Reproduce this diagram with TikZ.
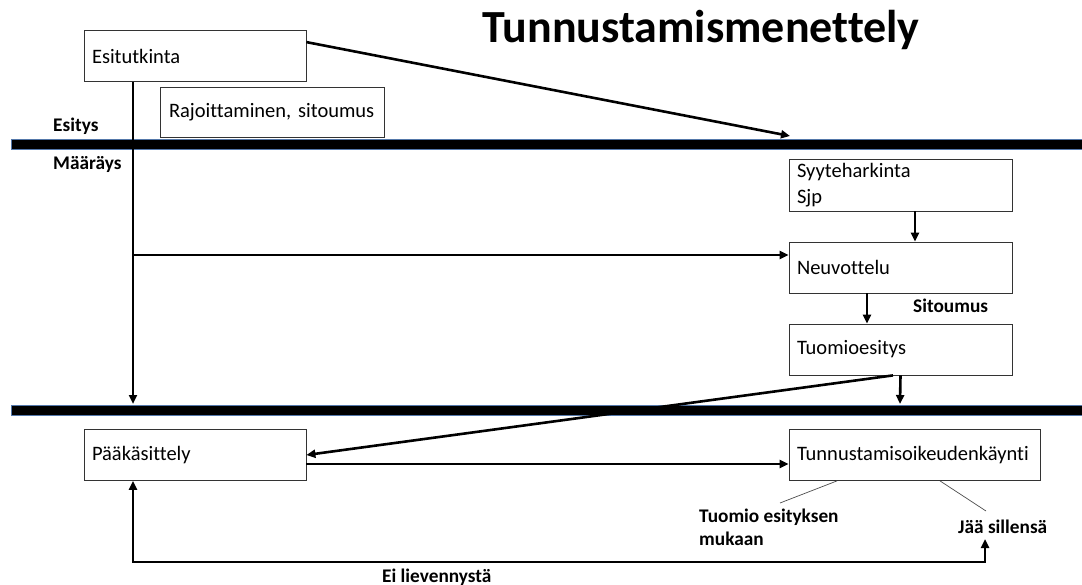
\documentclass[tikz,border=0pt]{standalone}
\usepackage{fontspec}
\setmainfont{Carlito}[Ligatures={NoCommon}]
\usetikzlibrary{arrows.meta}
\definecolor{barblue}{RGB}{84,120,170}
\begin{document}
\begin{tikzpicture}[x=1pt,y=-1pt,
  box/.style={draw=black!80, line width=0.8pt, fill=white, minimum height=51pt,
    text width=#1-16pt, minimum width=#1, align=left, inner xsep=7.5pt, inner ysep=0pt,
    font=\fontsize{20.5}{25}\selectfont},
  box/.default=222pt,
  arr/.style={line width=2.6pt, -{Triangle[length=9pt,width=8pt]}},
  lbl/.style={font=\bfseries\fontsize{19.3}{23}\selectfont, inner sep=0pt, anchor=base west, align=left},
  bar/.style={fill=black, draw=barblue, line width=0.8pt},
  note/.style={draw=black!70, line width=0.7pt}]
\useasboundingbox (0,0) rectangle (1082,585);

% title
\node[font=\bfseries\fontsize{46}{52}\selectfont, inner sep=0pt, anchor=base west] (title) at (482,43) {Tunnustamismenettely};

% bars
\path[bar] (11,139) rectangle (1083,149);
\path[bar] (11,405) rectangle (1083,415);

% boxes
\node[box] (esi) at (195,56) {Esitutkinta};
\node[box, minimum height=50pt, inner xsep=9pt] (raj) at (272,112) {\mbox{Rajoittaminen, sitoumus}};
\node[box=223pt, minimum height=52pt, font=\fontsize{20.5}{26}\selectfont] (syy) at (900.5,185) {Syyteharkinta\\Sjp};
\node[box=223pt] (neu) at (900.5,267.5) {Neuvottelu};
\node[box=223pt] (tuo) at (900.5,349.5) {Tuomioesitys};
\node[box] (paa) at (195,455) {Pääkäsittely};
\node[box=251pt] (tun) at (914.5,455) {Tunnustamisoikeudenkäynti};

% labels
\node[lbl] (esitys) at (53,132) {Esitys};
\node[lbl] (maar) at (53,170) {Määräys};
\node[lbl] (sit) at (913,313) {Sitoumus};
\node[lbl] (tuom) at (699,545) {Tuomio esityksen\\mukaan};
\node[lbl] (jaa) at (958,533) {Jää sillensä};
\node[lbl] (ei) at (382,582) {Ei lievennystä};

% coordinates
\coordinate (e1) at (790,136);
\coordinate (v1) at (133,404);
\coordinate (v2) at (133,255);
\coordinate (v3) at (900,404);
\coordinate (b1) at (133,562);
\coordinate (b2) at (985,562);
\coordinate (b3) at (985,539);
\coordinate (n1) at (780,503);
\coordinate (n2) at (986,511);

% connectors
\draw[arr] ([yshift=-12pt]esi.north east) -- (e1);
\draw[arr] ([xshift=-62pt]esi.south) -- (v1);
\draw[arr] (v2) -- (neu.west |- v2);
\draw[arr] ([xshift=14.5pt]syy.south) -- ([xshift=14.5pt]neu.north);
\draw[arr] ([xshift=-33.5pt]neu.south) -- ([xshift=-33.5pt]tuo.north);
\draw[arr] (tuo.south) -- (v3);
\draw[arr] ([xshift=-7.5pt]tuo.south) -- (paa.east);
\draw[arr] ([yshift=-9pt]paa.east) -- ([yshift=-9pt]tun.west);
\draw[line width=2.6pt, {Triangle[length=9pt,width=8pt]}-{Triangle[length=9pt,width=8pt]}]
  ([xshift=-62pt]paa.south) -- (b1) -- (b2) -- (b3);
\draw[note] ([xshift=-77.5pt]tun.south) -- (n1);
\draw[note] ([xshift=25.5pt]tun.south) -- (n2);
\end{tikzpicture}
\end{document}
